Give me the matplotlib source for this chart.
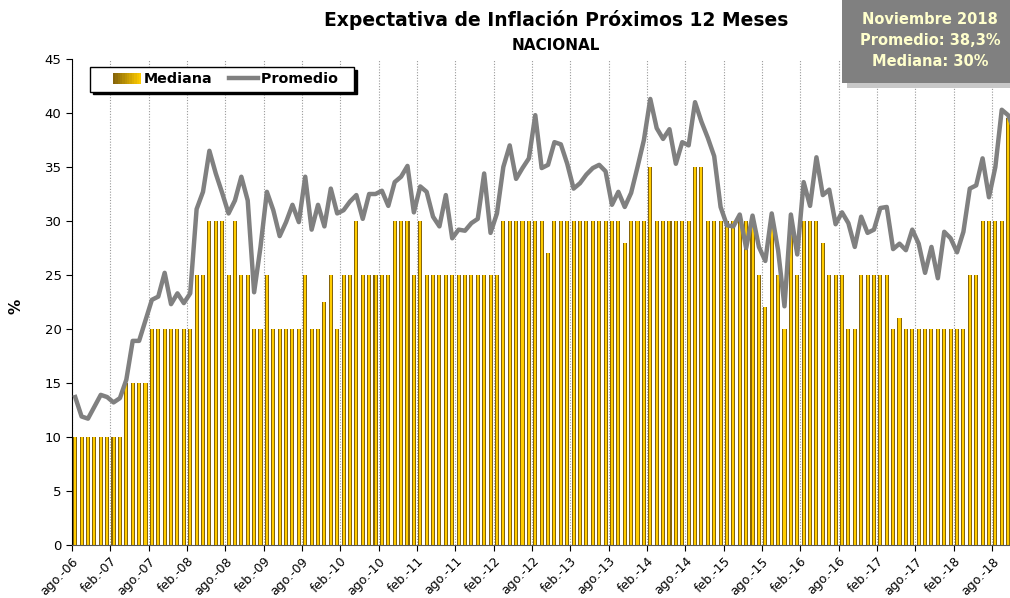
import matplotlib
matplotlib.use("Agg")
import matplotlib.pyplot as plt
import numpy as np
from matplotlib.colors import LinearSegmentedColormap
from matplotlib.legend_handler import HandlerBase
from matplotlib.lines import Line2D
from matplotlib.patches import Patch, Rectangle

# Mediana mensual, ago-06 .. nov-18
mediana = [
    10, 10, 10, 10, 10, 10, 10, 10, 15, 15, 15, 15,
    20, 20, 20, 20, 20, 20, 20, 25, 25, 30, 30, 30,
    25, 30, 25, 25, 20, 20, 25, 20, 20, 20, 20, 20,
    25, 20, 20, 22.5, 25, 20, 25, 25, 30, 25, 25, 25,
    25, 25, 30, 30, 30, 25, 30, 25, 25, 25, 25, 25,
    25, 25, 25, 25, 25, 25, 25, 30, 30, 30, 30, 30,
    30, 30, 27, 30, 30, 30, 30, 30, 30, 30, 30, 30,
    30, 30, 28, 30, 30, 30, 35, 30, 30, 30, 30, 30,
    30, 35, 35, 30, 30, 30, 30, 30, 30, 30, 30, 25,
    22, 30, 25, 20, 30, 25, 30, 30, 30, 28, 25, 25,
    25, 20, 20, 25, 25, 25, 25, 25, 20, 21, 20, 20,
    20, 20, 20, 20, 20, 20, 20, 20, 25, 25, 30, 30,
    30, 30, 39.5, 30,
]

# Promedio mensual, ago-06 .. nov-18
promedio = [
    13.7, 11.9, 11.7, 12.8, 13.9, 13.7, 13.2, 13.6, 15.3, 18.9, 18.9, 20.8,
    22.7, 23.0, 25.2, 22.3, 23.3, 22.4, 23.3, 31.1, 32.7, 36.5, 34.4, 32.6,
    30.7, 31.9, 34.1, 31.9, 23.4, 27.6, 32.7, 31.0, 28.6, 29.9, 31.5, 29.9,
    34.1, 29.2, 31.5, 29.5, 33.0, 30.7, 31.0, 31.8, 32.4, 30.2, 32.5, 32.5,
    32.8, 31.4, 33.6, 34.1, 35.1, 30.8, 33.2, 32.7, 30.4, 29.5, 32.4, 28.4,
    29.2, 29.1, 29.8, 30.2, 34.4, 28.9, 30.7, 35.0, 37.0, 33.9, 34.9, 35.8,
    39.8, 34.9, 35.2, 37.3, 37.1, 35.3, 33.0, 33.5, 34.3, 34.9, 35.2, 34.6,
    31.5, 32.7, 31.3, 32.6, 35.0, 37.5, 41.3, 38.6, 37.6, 38.5, 35.3, 37.3,
    37.0, 41.0, 39.2, 37.7, 36.0, 31.3, 29.6, 29.5, 30.6, 27.5, 30.5, 27.6,
    26.3, 30.7, 27.3, 22.1, 30.6, 26.9, 33.6, 31.4, 35.9, 32.4, 32.9, 29.7,
    30.8, 29.8, 27.6, 30.4, 28.9, 29.2, 31.2, 31.3, 27.4, 27.9, 27.3, 29.2,
    27.9, 25.2, 27.6, 24.7, 29.0, 28.4, 27.1, 29.0, 33.0, 33.3, 35.8, 32.2,
    35.0, 40.3, 39.8, 38.3,
]

tick_labels = [
    "ago.-06", "feb.-07", "ago.-07", "feb.-08", "ago.-08", "feb.-09",
    "ago.-09", "feb.-10", "ago.-10", "feb.-11", "ago.-11", "feb.-12",
    "ago.-12", "feb.-13", "ago.-13", "feb.-14", "ago.-14", "feb.-15",
    "ago.-15", "feb.-16", "ago.-16", "feb.-17", "ago.-17", "feb.-18",
    "ago.-18",
]

GOLD_DARK = "#86650A"
GOLD = "#FFCC00"
GRAY = "#808080"


class GradientHandler(HandlerBase):
    # legend swatch: dark gold to bright yellow, drawn in the right part only
    def create_artists(self, legend, orig_handle, xdescent, ydescent,
                       width, height, fontsize, trans):
        ramp = LinearSegmentedColormap.from_list("g", [GOLD_DARK, GOLD])
        w = 20.2  # points
        x0 = -xdescent + width - w
        n = 12
        arts = []
        for k in range(n):
            arts.append(Rectangle((x0 + k * w / n, -ydescent), w / n + 0.2,
                                  height, facecolor=ramp(k / (n - 1)),
                                  edgecolor="none", transform=trans))
        return arts


class ShortLineHandler(HandlerBase):
    def create_artists(self, legend, orig_handle, xdescent, ydescent,
                       width, height, fontsize, trans):
        w = 20.9  # points
        y = -ydescent + height / 2
        ln = Line2D([-xdescent + width - w, -xdescent + width], [y, y],
                    color=orig_handle.get_color(),
                    lw=orig_handle.get_linewidth(), transform=trans)
        return [ln]


x = np.arange(len(mediana))

fig = plt.figure(figsize=(10.1, 5.98), dpi=100)
ax = fig.add_axes([72 / 1010, 53 / 598, len(mediana) * 6.39 / 1010, 486 / 598])

# Bars: dark outer bar + bright narrower core
ax.bar(x, mediana, width=0.64, color=GOLD_DARK, zorder=2)
ax.bar(x, mediana, width=0.32, color=GOLD, zorder=2)

ax.plot(x, promedio, color=GRAY, lw=3.2, zorder=3, solid_joinstyle="round")

ax.set_xlim(-0.5, len(mediana) - 0.5)
ax.set_ylim(0, 45)
ax.set_yticks(range(0, 46, 5))
ax.tick_params(axis="y", labelsize=9.5, length=4, direction="out")

tick_pos = np.arange(len(tick_labels)) * 6 - 0.5
ax.set_xticks(tick_pos)
ax.set_xticklabels(tick_labels, rotation=45, ha="right", va="top",
                   rotation_mode="anchor", fontsize=9)
ax.tick_params(axis="x", length=4, direction="out", pad=3)
ax.xaxis.grid(True, linestyle=(0, (1, 1.5)), color="#999999", lw=0.8)
ax.set_axisbelow(True)

for s in ["top", "right"]:
    ax.spines[s].set_visible(False)
ax.spines["left"].set_color("black")
ax.spines["bottom"].set_color("#555555")

ax.set_ylabel("%", fontsize=11, fontweight="bold")
ax.yaxis.set_label_coords(-0.051, 0.49)

l_med = Patch(facecolor=GOLD)
l_prom = Line2D([], [], color=GRAY, lw=3.2)
leg = ax.legend([l_med, l_prom], ["Mediana", "Promedio  "], ncol=2,
                loc="upper left", bbox_to_anchor=(0.019, 0.984),
                borderaxespad=0, fancybox=False, framealpha=1,
                edgecolor="black",
                handler_map={l_med: GradientHandler(),
                             l_prom: ShortLineHandler()},
                prop={"weight": "bold", "size": 10.3},
                handlelength=3.2, handleheight=0.8, handletextpad=0.2,
                columnspacing=0.0, borderpad=0.38,
                shadow={"color": "black", "alpha": 1})
leg.get_frame().set_linewidth(1.0)
leg.set_zorder(6)

fig.text(0.5505, 0.966, "Expectativa de Inflación Próximos 12 Meses",
         ha="center", va="center", fontsize=13.5, fontweight="bold")
fig.text(0.5505, 0.924, "NACIONAL", ha="center", va="center",
         fontsize=11, fontweight="bold")

# Info box, top right
fig.add_artist(Rectangle((847 / 1010, (598 - 88) / 598), 1, 1,
                         transform=fig.transFigure, facecolor="#C8C8C8",
                         edgecolor="none", zorder=7))
fig.add_artist(Rectangle((842 / 1010, (598 - 83) / 598), 1, 1,
                         transform=fig.transFigure, facecolor=GRAY,
                         edgecolor="none", zorder=8))
info = ["Noviembre 2018", "Promedio: 38,3%", "Mediana: 30%"]
for k, t in enumerate(info):
    fig.text(930 / 1010, (598 - 20 - k * 20.5) / 598, t, ha="center",
             va="center", fontsize=10.5, fontweight="bold",
             color="#FFFFCC", zorder=9)

fig.savefig("out.png", dpi=100)
